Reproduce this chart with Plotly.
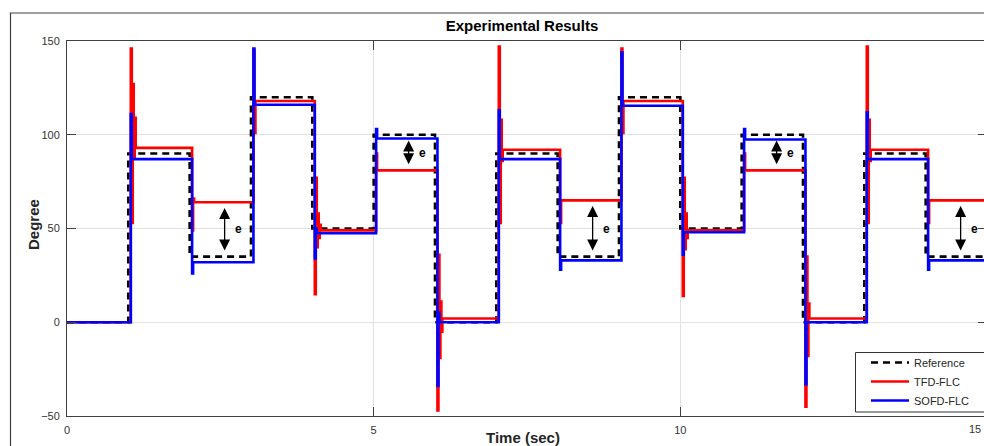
import plotly.graph_objects as go

# ---------------- data ----------------
step_times = [1, 2, 3, 4, 5, 6, 7, 8, 9, 10, 11, 12, 13, 14]
t_end = 15
ref_levels = [0, 90, 35, 120, 50, 100, 0, 90, 35, 120, 50, 100, 0, 90, 35]

# transient samples after each step (last value = settled level)
tfd_transients = [
    [146, 53, 127, 88, 109, 93],
    [49, 66, 64],
    [145, 101, 118],
    [15, 77, 40, 58, 45, 52, 49],
    [90, 81],
    [-47, 36, -19, 11, -5, 2],
    [147, 53, 108, 86, 92],
    [53, 65],
    [146, 101, 118],
    [14, 77, 39, 58, 45, 49],
    [90, 81],
    [-45, 35, -18, 10, 2],
    [147, 53, 108, 86, 92],
    [53, 65],
]
sofd_transients = [
    [111, 87],
    [26, 32],
    [146, 116],
    [34, 50, 47.5],
    [103, 98],
    [-34, 5, 0],
    [113, 87],
    [28, 33],
    [144, 115.5],
    [36, 48],
    [103, 97.5],
    [-33, 0],
    [112, 87],
    [28, 33],
]
response_delay = 0.04
sample_dt = 0.016

x_ticks = [0, 5, 10, 15]
x_tick_labels = ["0", "5", "10", "15"]
y_ticks = [-50, 0, 50, 100, 150]

# segments where the tracking error e is marked
e_segments = [2, 5, 8, 11, 14]


def build_response(transients):
    xs, ys = [0], [0]
    for t0, vals in zip(step_times, transients):
        for i, v in enumerate(vals):
            xs.append(t0 + response_delay + i * sample_dt)
            ys.append(v)
    xs.append(t_end)
    ys.append(ys[-1])
    return xs, ys


ref_x = [0] + step_times + [t_end]
ref_y = ref_levels + [ref_levels[-1]]
tfd_x, tfd_y = build_response(tfd_transients)
sofd_x, sofd_y = build_response(sofd_transients)

W, H = 990, 446
L, R, T, B = 67, 3, 41, 30
pw, ph = W - L - R, H - T - B
FONT = "Liberation Sans, Arial"


def px_x(p):
    return (p - L) / pw


def px_y(p):
    return (H - B - p) / ph


fig = go.Figure()
fig.add_trace(go.Scatter(x=ref_x, y=ref_y, mode="lines", name="Reference",
                         line=dict(color="black", width=2.6, dash="7px,5px", shape="hv")))
fig.add_trace(go.Scatter(x=tfd_x, y=tfd_y, mode="lines", name="TFD-FLC",
                         line=dict(color="#ff0000", width=2.6, shape="hv")))
fig.add_trace(go.Scatter(x=sofd_x, y=sofd_y, mode="lines", name="SOFD-FLC",
                         line=dict(color="#0000ff", width=2.6, shape="hv")))

annotations = []
for k in e_segments:
    seg_start = step_times[k - 1]
    r = ref_levels[k]
    f = tfd_transients[k - 1][-1]
    top, bot = max(r, f) - 3, min(r, f) + 2.5
    xm = seg_start + 0.57
    annotations.append(dict(x=xm, y=top, ax=xm, ay=bot, xref="x", yref="y", axref="x", ayref="y",
                            text="", showarrow=True, arrowhead=2, startarrowhead=2,
                            arrowside="end+start", arrowsize=1.7, startarrowsize=1.7,
                            arrowwidth=1.3, arrowcolor="black"))
    annotations.append(dict(x=xm + 0.13, y=(r + f) / 2, xref="x", yref="y", text="<b>e</b>",
                            showarrow=False, xanchor="left", yanchor="middle",
                            font=dict(size=12, color="black", family=FONT)))

annotations.append(dict(text="<b>Time (sec)</b>", x=px_x(523), y=px_y(437),
                        xref="paper", yref="paper", showarrow=False, xanchor="center", yanchor="middle",
                        font=dict(size=15, color="#262626", family=FONT)))
annotations.append(dict(text="<b>Degree</b>", x=px_x(33), y=px_y(225),
                        xref="paper", yref="paper", showarrow=False, xanchor="center", yanchor="middle",
                        textangle=-90,
                        font=dict(size=15, color="#262626", family=FONT)))
# last x tick label sits at the window edge: keep it fully visible
annotations.append(dict(text=x_tick_labels[-1], x=px_x(983), y=px_y(429),
                        xref="paper", yref="paper", showarrow=False, xanchor="right", yanchor="middle",
                        font=dict(size=11, color="#333333", family=FONT)))

axis_common = dict(showline=True, linecolor="#404040", linewidth=1, mirror="ticks",
                   ticks="inside", ticklen=9, tickcolor="#404040", tickwidth=1,
                   showgrid=True, gridcolor="#e1e1e1", gridwidth=1, zeroline=False,
                   ticklabelstandoff=4, automargin=False,
                   tickfont=dict(size=11, color="#333333", family=FONT))

fig.update_layout(
    width=W, height=H,
    margin=dict(l=L, r=R, t=T, b=B, autoexpand=False),
    paper_bgcolor="white", plot_bgcolor="white",
    title=dict(text="<b>Experimental Results</b>", x=px_x(522), xref="paper", xanchor="center",
               y=1 - 26 / H, yref="container", yanchor="middle",
               font=dict(size=15, color="black", family=FONT)),
    xaxis=dict(range=[0, t_end], tickvals=x_ticks, ticktext=x_tick_labels[:-1] + [""], **axis_common),
    yaxis=dict(range=[-50, 150], tickvals=y_ticks, **axis_common),
    legend=dict(x=px_x(866), y=px_y(348), xanchor="left", yanchor="top",
                bgcolor="rgba(0,0,0,0)", borderwidth=0,
                itemwidth=38,
                font=dict(size=11, color="#262626", family=FONT),
                tracegroupgap=0),
    showlegend=True,
    annotations=annotations,
    shapes=[
        dict(type="rect", xref="paper", yref="paper",
             x0=px_x(10.5), x1=1.2, y0=-0.3, y1=px_y(13),
             line=dict(color="#404040", width=1.2), fillcolor="rgba(0,0,0,0)", layer="below"),
        dict(type="rect", xref="paper", yref="paper",
             x0=px_x(855.5), x1=px_x(985.5), y0=px_y(412), y1=px_y(352.5),
             line=dict(color="#333333", width=1), fillcolor="white", layer="above"),
    ],
)

fig.write_html("out.html", config={"displayModeBar": False},
               post_script="document.body.style.margin='0';document.documentElement.style.overflow='hidden';document.body.style.overflow='hidden';")
